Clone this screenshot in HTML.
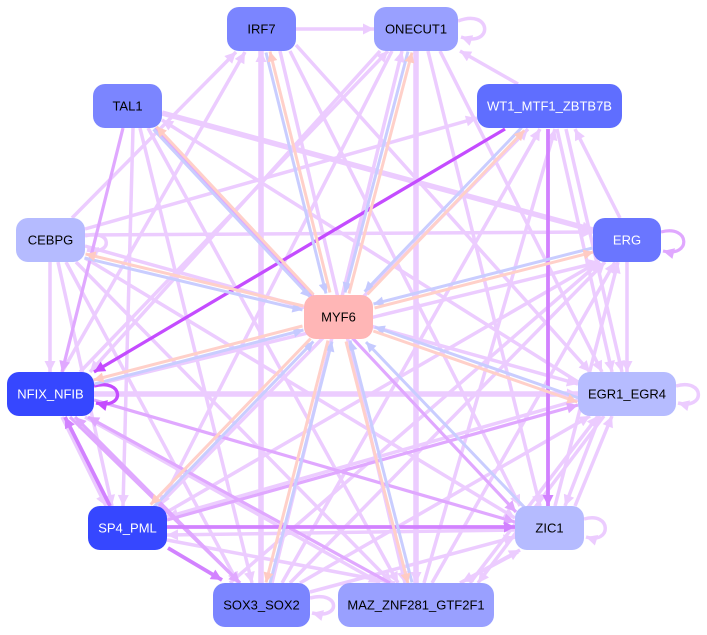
<!DOCTYPE html>
<html>
<head>
<meta charset="utf-8">
<style>
html,body{margin:0;padding:0;background:#fff;}
svg{display:block;}
.L{stroke:#ecccff;stroke-width:3.5;fill:none;}
.LT{stroke:#ecccff;stroke-width:5.5;fill:none;}
.M{stroke:#e0a8ff;stroke-width:3.2;fill:none;}
.M2{stroke:#d282ff;stroke-width:3.8;fill:none;}
.S{stroke:#c44cff;stroke-width:3.3;fill:none;}
.B{stroke:#c9cdff;stroke-width:3;fill:none;}
.R{stroke:#ffd0c9;stroke-width:3;fill:none;}
text{font-family:"Liberation Sans",Arial,sans-serif;font-size:13px;text-anchor:middle;dominant-baseline:central;}
</style>
</head>
<body>
<svg width="707" height="635" viewBox="0 0 707 635" xmlns="http://www.w3.org/2000/svg">
<defs>
<marker id="mL" viewBox="0 0 10 10" refX="10" refY="5" markerWidth="13" markerHeight="11" markerUnits="userSpaceOnUse" orient="auto"><path d="M0,0L10,5L0,10z" fill="#ecccff"/></marker>
<marker id="mM" viewBox="0 0 10 10" refX="10" refY="5" markerWidth="13" markerHeight="11" markerUnits="userSpaceOnUse" orient="auto"><path d="M0,0L10,5L0,10z" fill="#e0a8ff"/></marker>
<marker id="mM2" viewBox="0 0 10 10" refX="10" refY="5" markerWidth="13" markerHeight="11" markerUnits="userSpaceOnUse" orient="auto"><path d="M0,0L10,5L0,10z" fill="#d282ff"/></marker>
<marker id="mS" viewBox="0 0 10 10" refX="10" refY="5" markerWidth="13" markerHeight="11" markerUnits="userSpaceOnUse" orient="auto"><path d="M0,0L10,5L0,10z" fill="#c44cff"/></marker>
<marker id="mB" viewBox="0 0 10 10" refX="10" refY="5" markerWidth="12" markerHeight="10" markerUnits="userSpaceOnUse" orient="auto"><path d="M0,0L10,5L0,10z" fill="#c5caff"/></marker>
<marker id="mR" viewBox="0 0 10 10" refX="10" refY="5" markerWidth="12" markerHeight="10" markerUnits="userSpaceOnUse" orient="auto"><path d="M0,0L10,5L0,10z" fill="#ffcbc3"/></marker>
</defs>

<g marker-end="url(#mL)">
<line class="L" x1="296" y1="29" x2="374" y2="29"/>
<line class="L" x1="518" y1="84" x2="460" y2="51"/>
<line class="L" x1="85" y1="229" x2="477" y2="118"/>
<line class="L" x1="85" y1="246" x2="578" y2="384"/>
<line class="L" x1="72" y1="218" x2="236" y2="52"/>
<line class="L" x1="62" y1="372" x2="245" y2="52"/>
<line class="L" x1="80" y1="372" x2="388" y2="51"/>
<line class="L" x1="133" y1="128" x2="123" y2="506"/>
<line class="L" x1="140" y1="128" x2="252" y2="583"/>
<line class="L" x1="148" y1="128" x2="398" y2="583"/>
<line class="L" x1="50" y1="262" x2="50" y2="372"/>
<line class="L" x1="58" y1="262" x2="112" y2="506"/>
<line class="L" x1="66" y1="262" x2="238" y2="583"/>
<line class="L" x1="76" y1="262" x2="392" y2="583"/>
<line class="L" x1="85" y1="258" x2="515" y2="518"/>
<line class="L" x1="62" y1="417" x2="106" y2="506"/>
<line class="L" x1="85" y1="417" x2="380" y2="583"/>
<line class="L" x1="167" y1="512" x2="598" y2="262"/>
<line class="L" x1="158" y1="506" x2="528" y2="129"/>
<line class="L" x1="167" y1="540" x2="395" y2="583"/>
<line class="L" x1="290" y1="583" x2="605" y2="262"/>
<line class="L" x1="282" y1="583" x2="540" y2="129"/>
<line class="L" x1="272" y1="583" x2="402" y2="51"/>
<line class="L" x1="300" y1="583" x2="590" y2="416"/>
<line class="L" x1="310" y1="592" x2="515" y2="537"/>
<line class="L" x1="432" y1="583" x2="615" y2="262"/>
<line class="L" x1="424" y1="583" x2="555" y2="129"/>
<line class="L" x1="470" y1="583" x2="598" y2="416"/>
<line class="L" x1="604" y1="416" x2="478" y2="583"/>
<line class="L" x1="460" y1="583" x2="520" y2="550"/>
<line class="L" x1="518" y1="552" x2="462" y2="582"/>
<line class="L" x1="600" y1="416" x2="565" y2="506"/>
<line class="L" x1="575" y1="506" x2="612" y2="416"/>
<line class="L" x1="627" y1="262" x2="627" y2="372"/>
<line class="L" x1="620" y1="218" x2="575" y2="129"/>
<line class="L" x1="557" y1="129" x2="612" y2="372"/>
<line class="L" x1="566" y1="129" x2="622" y2="372"/>
<line class="L" x1="392" y1="51" x2="160" y2="506"/>
<line class="L" x1="428" y1="51" x2="540" y2="506"/>
<line class="L" x1="440" y1="51" x2="602" y2="372"/>
<line class="L" x1="380" y1="51" x2="90" y2="372"/>
<line class="L" x1="280" y1="51" x2="405" y2="583"/>
<line class="L" x1="290" y1="51" x2="520" y2="506"/>
<line class="L" x1="296" y1="45" x2="590" y2="372"/>
<line class="L" x1="578" y1="382" x2="162" y2="120"/>
<line class="L" x1="94" y1="385" x2="600" y2="262"/>
<line class="L" x1="555" y1="506" x2="618" y2="262"/>
<line class="L" x1="578" y1="400" x2="167" y2="517"/>
<line class="L" x1="230" y1="583" x2="600" y2="262"/>
<line class="L" x1="515" y1="530" x2="167" y2="535"/>
<line class="L" x1="85" y1="235" x2="593" y2="232"/>
<line class="LT" x1="261" y1="583" x2="261" y2="51"/>
<line class="LT" x1="416" y1="51" x2="416" y2="583"/>
<line class="LT" x1="162" y1="113" x2="593" y2="230"/>
<line class="LT" x1="94" y1="394" x2="578" y2="394"/>
<path class="L" d="M458,21 C492,8 494,48 461,37"/>
<path class="L" d="M85,236 C112,228 114,256 87,250"/>
<path class="L" d="M676,386 C705,378 706,410 678,403"/>
<path class="L" d="M584,519 C612,511 612,545 586,537"/>
<path class="L" d="M310,598 C340,590 342,620 312,613"/>
</g>

<g marker-end="url(#mM)">
<line class="M" x1="123" y1="128" x2="62" y2="372"/>
<line class="M" x1="155" y1="128" x2="516" y2="512"/>
<line class="M" x1="70" y1="417" x2="240" y2="583"/>
<line class="M" x1="94" y1="400" x2="515" y2="522"/>
<line class="M" x1="167" y1="520" x2="578" y2="405"/>
<line class="M" x1="240" y1="583" x2="75" y2="417"/>
<line class="M" x1="390" y1="583" x2="88" y2="417"/>
<path class="M" d="M661,232 C690,224 692,258 663,251"/>
</g>

<g marker-end="url(#mM2)">
<line class="M2" x1="167" y1="527" x2="515" y2="527"/>
<line class="M2" x1="168" y1="548" x2="222" y2="580"/>
<line class="M2" x1="548" y1="129" x2="548" y2="506"/>
<line class="M2" x1="110" y1="506" x2="65" y2="417"/>
</g>

<g marker-end="url(#mS)">
<line class="S" x1="505" y1="129" x2="94" y2="372"/>
<path class="S" d="M94,386 C124,378 126,410 96,403"/>
</g>

<g marker-end="url(#mB)">
<line class="B" x1="266" y1="52.5" x2="326" y2="293.5"/>
<line class="B" x1="408" y1="51.5" x2="345" y2="292.5"/>
<line class="B" x1="153.5" y1="129.4" x2="310.5" y2="297.4"/>
<line class="B" x1="521.6" y1="127.6" x2="364.6" y2="291.6"/>
<line class="B" x1="84.5" y1="257.9" x2="302.5" y2="309.9"/>
<line class="B" x1="592.5" y1="248" x2="373.5" y2="304"/>
<line class="B" x1="94.5" y1="384" x2="303.5" y2="330"/>
<line class="B" x1="578.7" y1="398" x2="374.7" y2="327"/>
<line class="B" x1="153.4" y1="507.4" x2="313.4" y2="341.4"/>
<line class="B" x1="527" y1="510" x2="366" y2="342"/>
<line class="B" x1="270" y1="583.5" x2="332" y2="341.5"/>
<line class="B" x1="412" y1="582.5" x2="350" y2="340.5"/>
</g>

<g marker-end="url(#mR)">
<line class="R" x1="330" y1="292.5" x2="270" y2="51.5"/>
<line class="R" x1="349" y1="293.5" x2="412" y2="52.5"/>
<line class="R" x1="313.5" y1="294.6" x2="156.5" y2="126.6"/>
<line class="R" x1="367.4" y1="294.4" x2="524.4" y2="130.4"/>
<line class="R" x1="303.5" y1="306" x2="85.5" y2="254"/>
<line class="R" x1="374.5" y1="308" x2="593.5" y2="252"/>
<line class="R" x1="302.5" y1="326" x2="93.5" y2="380"/>
<line class="R" x1="373.3" y1="331" x2="577.3" y2="402"/>
<line class="R" x1="310.6" y1="338.6" x2="150.6" y2="504.6"/>
<line class="R" x1="328" y1="340.5" x2="266" y2="582.5"/>
<line class="R" x1="346" y1="341.5" x2="408" y2="583.5"/>
</g>

<g>
<rect x="227" y="7" width="69" height="44" rx="12" fill="#7b85ff"/>
<text x="261.5" y="29">IRF7</text>
<rect x="374" y="7" width="84" height="44" rx="12" fill="#99a0ff"/>
<text x="416" y="29">ONECUT1</text>
<rect x="93" y="84" width="69" height="44" rx="12" fill="#7b85ff"/>
<text x="127.5" y="106">TAL1</text>
<rect x="477" y="84" width="145" height="44" rx="12" fill="#5f6eff"/>
<text x="549.5" y="106" fill="#fff">WT1_MTF1_ZBTB7B</text>
<rect x="16" y="218" width="69" height="44" rx="12" fill="#b5bbff"/>
<text x="50.5" y="240">CEBPG</text>
<rect x="593" y="218" width="68" height="44" rx="12" fill="#6a76ff"/>
<text x="627" y="240" fill="#fff">ERG</text>
<rect x="304" y="295" width="69" height="44" rx="12" fill="#ffb6b6"/>
<text x="338.5" y="317">MYF6</text>
<rect x="7" y="372" width="87" height="44" rx="12" fill="#3647ff"/>
<text x="50.5" y="394" fill="#fff">NFIX_NFIB</text>
<rect x="578" y="372" width="98" height="44" rx="12" fill="#b6bcff"/>
<text x="627" y="394">EGR1_EGR4</text>
<rect x="88" y="506" width="79" height="44" rx="12" fill="#3647ff"/>
<text x="127.5" y="528" fill="#fff">SP4_PML</text>
<rect x="515" y="506" width="69" height="44" rx="12" fill="#b5bbff"/>
<text x="549.5" y="528">ZIC1</text>
<rect x="213" y="583" width="97" height="44" rx="12" fill="#7b85ff"/>
<text x="261.5" y="605">SOX3_SOX2</text>
<rect x="338" y="583" width="156" height="44" rx="12" fill="#99a0ff"/>
<text x="416" y="605">MAZ_ZNF281_GTF2F1</text>
</g>
</svg>
</body>
</html>
